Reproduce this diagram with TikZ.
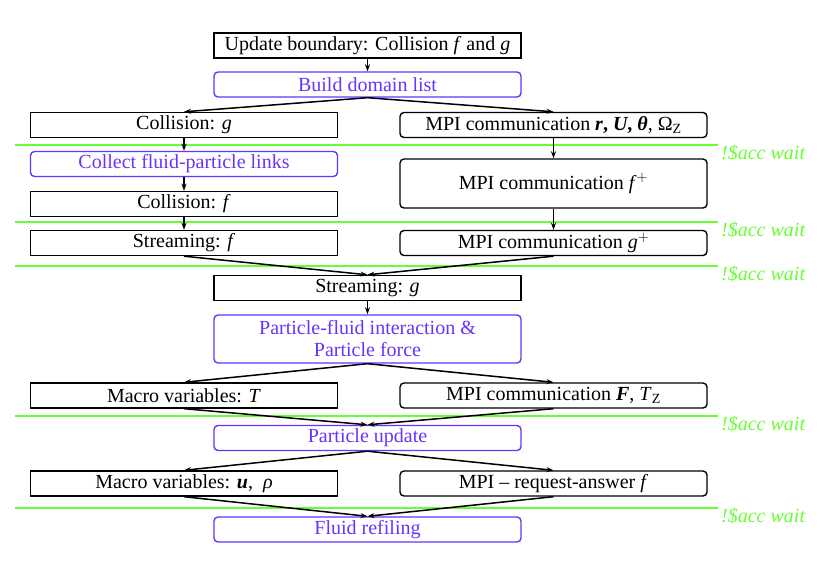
\documentclass[tikz,border=0pt]{standalone}
\usepackage{fontspec}
\setmainfont{Liberation Serif}
\usepackage{tikz}
\usetikzlibrary{arrows.meta}

\definecolor{waitgreen}{RGB}{102,255,51}
\definecolor{stepblue}{RGB}{102,51,255}

\begin{document}
\begin{tikzpicture}[x=1pt, y=-1pt,
    every node/.style={font=\fontsize{20}{22}\selectfont, inner sep=0pt},
    plainbox/.style={draw, line width=1.4pt, minimum width=307pt, minimum height=25pt},
    mpibox/.style={plainbox, rounded corners=4pt},
    gpubox/.style={plainbox, rounded corners=4pt, draw=stepblue, text=stepblue},
    flow/.style={-{Stealth[length=7pt,width=5pt]}, line width=1.5pt},
    waitline/.style={waitgreen, line width=1.6pt},
    waitlabel/.style={text=waitgreen, anchor=north west, font=\fontsize{20}{22}\selectfont\itshape}]
        \useasboundingbox (0, 0) rectangle (831, 575);

        % Synchronisation lines
        \foreach \y/\n in {145/a, 222/b, 266/c, 416/d, 508/e} {
          \draw [waitline] (15, \y) -- (718, \y);
          \node [waitlabel] (wait\n) at (721, \y) {!\$acc wait};
        }

        % Boxes
        \node [plainbox] (upd) at (367.5, 45.5) {Update boundary: Collision \textit{f} and \textit{g}};
        \node [gpubox] (build) at (367.5, 84.5) {Build domain list};
        \node [plainbox] (colg) at (184, 125) {Collision: \textit{g}};
        \node [mpibox] (mpir) at (553.5, 125) {MPI communication \textbf{\textit{r}, \textit{U}, \textit{θ}}, Ω\textsubscript{Z}};
        \node [gpubox] (collect) at (184, 164) {Collect fluid-particle links};
        \node [mpibox, minimum height=49pt] (mpif) at (553.5, 183.5) {MPI communication \textit{f}$^{+}$};
        \node [plainbox] (colf) at (184, 204) {Collision: \textit{f}};
        \node [plainbox] (strf) at (184, 243) {Streaming: \textit{f}};
        \node [mpibox] (mpig) at (553.5, 243) {MPI communication \textit{g}$^{+}$};
        \node [plainbox] (strg) at (367.5, 288) {Streaming: \textit{g}};
        \node [gpubox, minimum height=48pt, align=center] (pfi) at (367.5, 339) {Particle-fluid interaction \&\\Particle force};
        \node [plainbox] (macT) at (184, 395.5) {Macro variables: \textit{T}};
        \node [mpibox] (mpiF) at (553.5, 395.5) {MPI communication \textbf{\textit{F}}, \textit{T}\textsubscript{Z}};
        \node [gpubox] (pupd) at (367.5, 438) {Particle update};
        \node [plainbox] (macu) at (184, 483.5) {Macro variables: \textbf{\textit{u}},~~\textit{ρ}};
        \node [mpibox] (mpireq) at (553.5, 483.5) {MPI – request-answer \textit{f}};
        \node [gpubox] (refill) at (367.5, 529.5) {Fluid refiling};

        % Arrows
        \draw [flow] (upd.south) -- (build.north);
        \draw [flow] (build.south) -- (colg.north);
        \draw [flow] (build.south) -- (mpir.north);
        \draw [flow] (colg.south) -- (collect.north);
        \draw [flow] (collect.south) -- (colf.north);
        \draw [flow] (colf.south) -- (strf.north);
        \draw [flow] (mpir.south) -- (mpif.north);
        \draw [flow] (mpif.south) -- (mpig.north);
        \draw [flow] (strf.south) -- (strg.north);
        \draw [flow] (mpig.south) -- (strg.north);
        \draw [flow] (strg.south) -- (pfi.north);
        \draw [flow] (pfi.south) -- (macT.north);
        \draw [flow] (pfi.south) -- (mpiF.north);
        \draw [flow] (macT.south) -- (pupd.north);
        \draw [flow] (mpiF.south) -- (pupd.north);
        \draw [flow] (pupd.south) -- (macu.north);
        \draw [flow] (pupd.south) -- (mpireq.north);
        \draw [flow] (macu.south) -- (refill.north);
        \draw [flow] (mpireq.south) -- (refill.north);
      \end{tikzpicture}
\end{document}
